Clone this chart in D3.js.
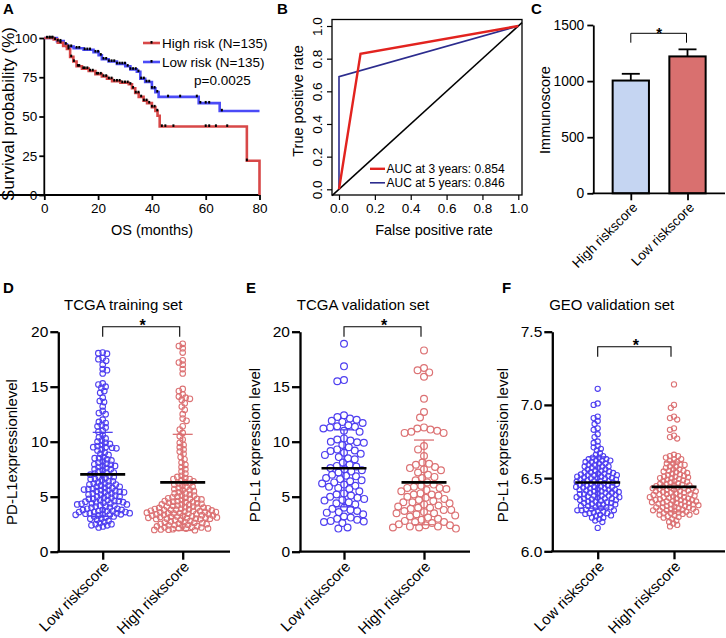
<!DOCTYPE html>
<html><head><meta charset="utf-8">
<script src="https://cdn.jsdelivr.net/npm/d3@7"></script>
<style>html,body{margin:0;padding:0;background:#fff}svg{display:block}</style>
</head><body><svg id="c" width="726" height="638"></svg>
<script>
// ---------------- DATA ----------------
// Panel A: Kaplan-Meier steps [time (months), survival %]
const kmHigh = [[0,100],[3.5,99],[5,97],[7,95],[8.4,93],[9.6,88],[10.8,85],[12,82],[14,80.5],[16.5,79],[19,77],[21.4,75.5],[23.3,74],[25.2,72.5],[28.3,71.5],[31.4,70.5],[32.6,68],[33.8,65],[35.1,62.5],[36.9,60],[38.2,58.5],[40,56],[41.3,53.5],[42.1,50.5],[42.9,43.6],[75.3,21.8],[80,0]];
const kmLow = [[0,100],[4.7,98],[7.2,96],[8.4,94.5],[10.9,93.5],[14.6,92.5],[18.3,91],[20.2,89],[21.4,86.5],[23.9,85],[27,83.5],[30.1,82],[32,80],[34.4,78.5],[35.7,74],[37.5,72],[40,68],[41.3,65.5],[42.5,62.5],[57.4,58.5],[65.2,53.5]];
const kmEnd = 80;
const censorHigh = [2,3,4,6,9,10,11,12.5,13,14.5,15,16,17,18,19.5,20,21,22,23,24,25,26,27,28,29,30,31,32,33,34,35,36,37,38,39,40,41,42,43.7,45,48,60,61.3,63.8,68,75.3];
const censorLow = [1,2,3,5,6,8,9,10,12,13,15,16,17,19,20,21,22,23,24,25,26,27,28,29,30,31,32,33,34,35,36,37,38,39,40,41,42,46,50.5,56.7,58,60,61.3,66];
const kmLegend = ["High risk (N=135)","Low risk (N=135)"];
const kmP = "p=0.0025";
const kmXTicks = [0,20,40,60,80];
const kmYTicks = [0,25,50,75,100];

// Panel B: ROC curves [FPR, TPR]
const roc3 = [[0,0],[0.12,0.83],[1,1]];
const roc5 = [[0,0],[0,0.69],[1,1]];
const rocLegend = ["AUC at 3 years: 0.854","AUC at 5 years: 0.846"];
const rocTicks = [0,0.2,0.4,0.6,0.8,1.0];

// Panel C: Immunoscore bars
const cCats = ["High riskscore","Low riskscore"];
const cMeans = [1005,1220];
const cErr = [1065,1283];
const cTicks = [0,500,1000,1500];

// Panels D-F: PD-L1 expression
const groupCats = ["Low riskscore","High riskscore"];
const dLow = [18.1,18.05,18.0,17.6,17.5,17.35,17.0,16.6,16.5,16.2,15.3,15.2,15.0,14.9,14.6,14.45,14.0,13.7,13.6,13.2,12.8,12.6,12.5,12.0,11.8,11.7,11.5,11.4,11.3,11.0,10.9,10.6,10.4,10.3,10.1,10.0,9.9,9.8,
9.7,9.6,9.5,9.5,9.45,9.4,9.3,9.2,9.0,8.9,8.8,8.6,8.5,8.5,8.4,8.3,8.2,8.1,8.0,7.95,
7.9,7.8,7.8,7.7,7.6,7.5,7.5,7.4,7.3,7.2,7.2,7.1,7.0,7.0,6.9,6.8,6.8,6.7,6.6,6.6,6.5,6.4,6.4,6.3,6.2,6.2,6.1,6.1,6.0,6.0,
5.9,5.9,5.8,5.8,5.7,5.7,5.6,5.6,5.5,5.5,5.4,5.4,5.3,5.3,5.2,5.2,5.1,5.1,5.0,5.0,4.9,4.9,4.8,4.8,4.7,4.7,4.6,4.6,4.5,4.5,4.4,4.4,4.3,4.3,4.2,4.2,4.1,4.1,4.0,4.0,4.45,4.55,4.35,5.45,5.65,
3.9,3.9,3.8,3.8,3.8,3.7,3.7,3.7,3.6,3.6,3.6,3.5,3.5,3.5,3.4,3.4,3.4,3.45,3.35,3.3,3.2,3.2,3.1,3.0,3.0,
2.9,2.8,2.7,2.6,2.5,2.5,2.4,2.4,2.3,2.2];
const dHigh = [18.9,18.7,18.5,18.1,17.4,17.2,17.0,16.6,16.2,14.8,14.6,14.3,14.1,14.0,13.9,13.8,13.5,13.2,12.9,12.5,12.1,11.9,11.4,11.1,
10.8,10.5,10.2,9.9,9.7,9.5,9.3,9.1,8.9,8.6,8.4,8.1,7.9,7.7,7.5,7.3,7.1,6.9,6.8,6.7,6.6,6.6,6.5,
6.4,6.3,6.2,6.1,6.0,5.9,5.8,5.7,5.6,5.5,5.4,5.3,5.2,5.1,5.0,6.2,5.9,5.6,5.3,5.1,
4.95,4.9,4.85,4.8,4.75,4.7,4.6,4.55,4.5,4.45,4.4,4.35,4.3,4.3,4.25,4.2,4.15,4.1,4.1,4.05,4.0,4.0,4.5,4.6,4.8,
3.98,3.95,3.9,3.88,3.85,3.8,3.78,3.75,3.7,3.68,3.65,3.6,3.58,3.55,3.5,3.48,3.45,3.4,3.38,3.35,3.3,3.28,3.25,3.2,3.18,3.15,3.1,3.08,3.05,3.0,3.0,3.02,3.12,3.22,3.32,3.42,3.52,3.62,3.72,3.82,
2.98,2.95,2.9,2.85,2.8,2.75,2.7,2.65,2.6,2.55,2.5,2.45,2.4,2.35,2.3,2.25,2.2,2.15,2.1,2.05,2.0,1.98,1.95,2.02,2.12,2.22,2.32,2.42,2.52,2.62];
const eLow = [18.9,16.85,15.6,15.5,12.4,12.25,12.1,12.0,11.9,11.8,11.7,11.5,11.4,11.35,11.3,11.2,11.0,10.9,10.3,10.2,10.1,10.0,9.95,9.9,9.7,9.5,9.3,9.2,9.15,9.0,8.9,8.8,8.6,8.5,8.4,8.1,7.9,7.8,7.75,7.6,7.5,7.4,7.3,7.2,7.0,6.9,6.85,6.7,6.6,6.5,6.4,6.3,6.2,6.1,6.0,5.9,5.8,5.7,5.5,5.3,5.2,5.1,5.0,4.9,4.8,4.7,4.65,4.5,4.4,4.3,4.0,3.9,3.8,3.7,3.6,3.55,3.4,3.2,3.1,3.0,2.9,2.8,2.75,2.7,2.6,2.2,2.1];
const eHigh = [18.3,16.7,16.5,16.3,15.9,13.9,12.7,12.2,11.3,11.2,11.1,11.0,10.9,10.8,10.8,9.6,9.3,8.7,8.1,8.0,7.9,7.7,7.6,7.5,7.4,7.2,7.0,6.8,6.7,6.5,6.3,6.1,6.0,5.9,5.8,5.8,5.7,5.6,5.5,5.3,5.2,5.2,5.1,5.0,4.9,4.8,4.7,4.6,4.5,4.5,4.4,4.3,4.2,4.1,4.0,4.0,3.9,3.8,3.8,3.7,3.6,3.5,3.5,3.4,3.3,3.2,3.1,3.0,2.9,2.8,2.7,2.7,2.6,2.5,2.4,2.4,2.3,2.3,2.2,2.2,2.1];
const fLow = [7.11,7.01,7.00,6.92,6.91,6.89,6.87,6.84,6.83,6.80,6.78,6.75,6.74,6.72,6.71,6.70,6.69,6.67,6.66,6.65,
6.64,6.64,6.63,6.63,6.62,6.62,6.61,6.61,6.60,6.60,6.59,6.59,6.58,6.58,6.57,6.57,6.56,6.56,6.55,6.55,6.62,6.58,
6.545,6.54,6.54,6.535,6.53,6.53,6.525,6.52,6.52,6.515,6.51,6.51,6.505,6.50,6.50,6.495,6.49,6.49,6.485,6.48,6.48,6.475,6.47,6.47,6.465,6.46,6.46,6.455,6.45,6.45,6.52,6.48,6.46,6.50,
6.445,6.44,6.44,6.435,6.43,6.43,6.425,6.42,6.42,6.415,6.41,6.41,6.405,6.40,6.40,6.395,6.39,6.39,6.385,6.38,6.38,6.375,6.37,6.37,6.365,6.36,6.36,6.355,6.35,6.35,6.44,6.42,6.40,6.38,6.36,
6.345,6.34,6.34,6.335,6.33,6.33,6.325,6.32,6.32,6.31,6.31,6.30,6.30,6.295,6.29,6.285,6.28,6.28,6.275,6.27,6.265,6.26,6.26,6.255,6.25,6.32,6.30,6.28,
6.245,6.24,6.23,6.23,6.22,6.21,6.20,6.16];
const fHigh = [7.14,7.00,6.98,6.92,6.91,6.90,6.84,6.83,6.79,6.78,6.77,6.66,6.65,6.65,6.64,
6.63,6.63,6.62,6.61,6.60,6.60,6.59,6.58,6.58,6.57,6.56,6.56,6.55,6.55,6.59,
6.545,6.54,6.535,6.53,6.525,6.52,6.515,6.51,6.505,6.50,6.50,6.495,6.49,6.485,6.48,6.48,6.475,6.47,6.465,6.46,6.46,6.455,6.45,6.45,6.51,
6.445,6.44,6.44,6.435,6.43,6.43,6.425,6.42,6.42,6.415,6.41,6.41,6.405,6.40,6.40,6.395,6.39,6.39,6.385,6.38,6.38,6.375,6.37,6.37,6.365,6.36,6.36,6.355,6.35,6.35,6.43,6.41,6.39,6.37,6.35,
6.345,6.34,6.34,6.335,6.33,6.33,6.33,6.325,6.32,6.32,6.315,6.31,6.31,6.305,6.30,6.30,6.295,6.29,6.29,6.285,6.28,6.28,6.275,6.27,6.27,6.265,6.26,6.26,6.255,6.25,6.25,6.34,6.32,6.30,6.28,
6.245,6.24,6.235,6.23,6.22,6.21,6.20,6.19,6.18,6.17];
// mean and SD
const dMean = [7.03,6.3], dSD = [3.82,4.37];
const eMean = [7.58,6.3], eSD = [3.5,3.85];
const fMean = [6.47,6.44], fSD = [0.175,0.17];
const dTicks = [0,5,10,15,20], fTicks = [6.0,6.5,7.0,7.5];
const titles = ["TCGA training set","TCGA validation set","GEO validation set"];
const yLabels = ["PD-L1expressionlevel","PD-L1 expression level","PD-L1 expression level"];

// ---------------- DRAW ----------------
const FONT = "'Liberation Sans', Arial, Helvetica, sans-serif";
const svg = d3.select("#c").style("font-family", FONT);
const BLUE_PT = "#4f3ff0", RED_PT = "#dc7274";

function styleAxis(g, w, fs) {
  g.selectAll("path.domain").attr("stroke","#000").attr("stroke-width",w);
  g.selectAll(".tick line").attr("stroke","#000").attr("stroke-width",w);
  g.selectAll(".tick text").attr("fill","#000").style("font-size",fs+"px").style("font-family",FONT);
}
function letter(t,x,y){ svg.append("text").attr("x",x).attr("y",y).text(t).style("font-weight","bold").style("font-size","15px"); }

// ===== Panel A =====
letter("A",3,14);
{
  const x = d3.scaleLinear().domain([0,80]).range([44.3,259.5]);
  const y = d3.scaleLinear().domain([0,100]).range([195,38]);
  const gA = svg.append("g");
  const ax = gA.append("g").attr("transform",`translate(0,195)`).call(d3.axisBottom(x).tickValues(kmXTicks).tickSize(5).tickSizeOuter(0).tickPadding(3));
  styleAxis(ax,1.8,13.5);
  const ay = gA.append("g").attr("transform",`translate(44.3,0)`).call(d3.axisLeft(y).tickValues(kmYTicks).tickSize(5).tickSizeOuter(0).tickPadding(2));
  styleAxis(ay,1.8,13.5);
  ay.select("path.domain").attr("d",`M0,${y(100)}V${y(0)+0.9}`);
  ax.select("path.domain").attr("d",`M-0.9,0H${x(80)}`);
  function stepPath(steps, end) {
    let d = `M${x(steps[0][0])},${y(steps[0][1])}`;
    for (let i=1;i<steps.length;i++){ d += `H${x(steps[i][0])}V${y(steps[i][1])}`; }
    if (end > steps[steps.length-1][0]) d += `H${x(end)}`;
    return d;
  }
  function survAt(steps,t){ let s=steps[0][1]; for(const p of steps){ if(p[0]<=t) s=p[1]; } return s; }
  gA.append("path").attr("d",stepPath(kmLow,kmEnd)).attr("fill","none").attr("stroke","#4b4bf7").attr("stroke-width",2.6);
  gA.append("path").attr("d",stepPath(kmHigh,kmEnd)).attr("fill","none").attr("stroke","#d84848").attr("stroke-width",2.6);
  [[censorLow,kmLow],[censorHigh,kmHigh]].forEach(([cs,st])=>{
    gA.selectAll(null).data(cs).enter().append("rect")
      .attr("x",d=>x(d)-1).attr("y",d=>y(survAt(st,d))-2.2).attr("width",2).attr("height",2.6).attr("fill","#000");
  });
  const lc = ["#d84848","#4b4bf7"];
  kmLegend.forEach((t,i)=>{
    const ly = 43 + i*19;
    gA.append("line").attr("x1",143).attr("x2",160).attr("y1",ly).attr("y2",ly).attr("stroke",lc[i]).attr("stroke-width",2.6);
    gA.append("rect").attr("x",150.5).attr("y",ly-2).attr("width",2).attr("height",2.6).attr("fill","#000");
    gA.append("text").attr("x",162).attr("y",ly+5).text(t).style("font-size","13.5px");
  });
  gA.append("text").attr("x",194).attr("y",85).text(kmP).style("font-size","13.5px");
  gA.append("text").attr("x",152).attr("y",235).attr("text-anchor","middle").text("OS (months)").style("font-size","14.5px");
  gA.append("text").attr("transform","translate(13.5,114) rotate(-90)").attr("text-anchor","middle").text("Survival probability (%)").style("font-size","17px");
}

// ===== Panel B =====
letter("B",277,14);
{
  const x = d3.scaleLinear().domain([0,1]).range([339,518.3]);
  const y = d3.scaleLinear().domain([0,1]).range([189.3,26]);
  const g = svg.append("g");
  const L=332,R=522,T=19.5,B=195;
  g.append("line").attr("x1",L).attr("y1",y(x.invert(L)))
    .attr("x2",R).attr("y2",y(x.invert(R))).attr("stroke","#000").attr("stroke-width",1.5);
  g.append("path").attr("d",d3.line().x(d=>x(d[0])).y(d=>y(d[1]))(roc5)).attr("fill","none").attr("stroke","#2c2c8e").attr("stroke-width",1.6);
  g.append("path").attr("d",d3.line().x(d=>x(d[0])).y(d=>y(d[1]))(roc3)).attr("fill","none").attr("stroke","#e2231f").attr("stroke-width",2.4);
  g.append("rect").attr("x",L).attr("y",T).attr("width",R-L).attr("height",B-T).attr("fill","none").attr("stroke","#000").attr("stroke-width",1.3);
  const fmt = d3.format(".1f");
  const ax = g.append("g").attr("transform",`translate(0,${B})`).call(d3.axisBottom(x).tickValues(rocTicks).tickFormat(fmt).tickSize(5).tickPadding(3));
  styleAxis(ax,1.2,13.5); ax.select("path.domain").remove();
  const ay = g.append("g").attr("transform",`translate(${L},0)`).call(d3.axisLeft(y).tickValues(rocTicks).tickFormat(fmt).tickSize(5));
  styleAxis(ay,1.2,13.5); ay.select("path.domain").remove();
  ay.selectAll(".tick text").attr("transform","rotate(-90)").attr("x",0).attr("y",-10).attr("dy",0).attr("text-anchor","middle");
  const lc = ["#e2231f","#2c2c8e"];
  rocLegend.forEach((t,i)=>{
    const ly = 168.8 + i*14;
    g.append("line").attr("x1",370).attr("x2",385).attr("y1",ly).attr("y2",ly).attr("stroke",lc[i]).attr("stroke-width",i?1.6:2.4);
    g.append("text").attr("x",386.5).attr("y",ly+4.2).text(t).style("font-size","12px");
  });
  g.append("text").attr("x",434).attr("y",235).attr("text-anchor","middle").text("False positive rate").style("font-size","14.5px");
  g.append("text").attr("transform","translate(303,101) rotate(-90)").attr("text-anchor","middle").text("True positive rate").style("font-size","14.5px");
}

// ===== Panel C =====
letter("C",531,14);
{
  const y = d3.scaleLinear().domain([0,1500]).range([193.3,25]);
  const x = d3.scalePoint().domain(cCats).range([630.8,687.5]);
  const bw = 36.3;
  const g = svg.append("g");
  const fills = ["#c5d5f2","#d9706f"];
  cCats.forEach((c,i)=>{
    g.append("line").attr("x1",x(c)).attr("x2",x(c)).attr("y1",y(cMeans[i])).attr("y2",y(cErr[i])).attr("stroke","#000").attr("stroke-width",1.8);
    g.append("line").attr("x1",x(c)-9).attr("x2",x(c)+9).attr("y1",y(cErr[i])).attr("y2",y(cErr[i])).attr("stroke","#000").attr("stroke-width",1.8);
  });
  g.selectAll(null).data(cCats).enter().append("rect")
    .attr("x",d=>x(d)-bw/2).attr("width",bw).attr("y",(d,i)=>y(cMeans[i])).attr("height",(d,i)=>y(0)-y(cMeans[i]))
    .attr("fill",(d,i)=>fills[i]).attr("stroke","#000").attr("stroke-width",2);
  const ay = g.append("g").attr("transform","translate(593.3,0)").call(d3.axisLeft(y).tickValues(cTicks).tickFormat(d3.format("d")).tickSize(6).tickSizeOuter(0).tickPadding(3));
  styleAxis(ay,1.8,13.8);
  const ax = g.append("g").attr("transform","translate(0,193.3)").call(d3.axisBottom(x).tickSize(7).tickSizeOuter(0));
  styleAxis(ax,1.8,13.5);
  ax.select("path.domain").attr("d","M592.4,0H725");
  ax.selectAll(".tick text").attr("text-anchor","end").attr("dy",0).attr("y",0).attr("x",0).attr("transform","translate(7,15) rotate(-45)");
  g.append("path").attr("d",`M${x(cCats[0])},42.7V33.3H${x(cCats[1])-1}V42.7`).attr("fill","none").attr("stroke","#000").attr("stroke-width",1);
  g.append("text").attr("x",(x(cCats[0])+x(cCats[1]))/2).attr("y",38).attr("text-anchor","middle").text("*").style("font-size","15px").style("font-weight","bold");
  g.append("text").attr("transform","translate(550,110) rotate(-90)").attr("text-anchor","middle").text("Immunoscore").style("font-size","14.5px");
}

// ===== Panels D-F =====
function swarm(vals, y, dmin) {
  const placed = [];
  const sorted = vals.slice().sort((a,b)=>b-a);
  sorted.forEach(v=>{
    const py = y(v);
    const blocks = [];
    for (const p of placed) {
      const dy = Math.abs(p.y-py);
      if (dy < dmin) { const w = Math.sqrt(dmin*dmin-dy*dy); blocks.push([p.x-w,p.x+w]); }
    }
    let cands = [0];
    blocks.forEach(b=>{cands.push(b[0]-0.01,b[1]+0.01);});
    cands.sort((a,b)=>Math.abs(a)-Math.abs(b) || a-b);
    let best = 0;
    for (const c of cands) { if (!blocks.some(b=>c>b[0] && c<b[1])) { best=c; break; } }
    placed.push({x:best,y:py,v});
  });
  return placed;
}
function dotPanel(o) {
  const g = svg.append("g");
  letter(o.letter, o.lx, 293);
  const y = d3.scaleLinear().domain(o.domain).range([o.y0, 331.7]);
  const x = d3.scalePoint().domain(groupCats).range(o.centers);
  const cols = [BLUE_PT, RED_PT];
  [o.low, o.high].forEach((vals,i)=>{
    const pts = swarm(vals, y, o.dmin);
    g.selectAll(null).data(pts).enter().append("circle")
      .attr("cx",d=>x(groupCats[i])+d.x).attr("cy",d=>d.y).attr("r",o.r)
      .attr("fill","none").attr("stroke",cols[i]).attr("stroke-width",o.sw);
  });
  groupCats.forEach((c,i)=>{
    const cx = x(c), m = o.mean[i], s = o.sd[i];
    g.append("line").attr("x1",cx).attr("x2",cx).attr("y1",y(m-s)).attr("y2",y(m+s)).attr("stroke",cols[i]).attr("stroke-width",1.3);
    [m-s,m+s].forEach(v=>g.append("line").attr("x1",cx-10).attr("x2",cx+10).attr("y1",y(v)).attr("y2",y(v)).attr("stroke",cols[i]).attr("stroke-width",1.3));
    g.append("line").attr("x1",cx-22.5).attr("x2",cx+22.5).attr("y1",y(m)).attr("y2",y(m)).attr("stroke","#000").attr("stroke-width",2.6);
  });
  const ay = g.append("g").attr("transform",`translate(${o.ax},0)`).call(d3.axisLeft(y).tickValues(o.ticks).tickFormat(o.fmt).tickSize(8).tickSizeOuter(0).tickPadding(2));
  styleAxis(ay,2.3,15.5);
  const ax = g.append("g").attr("transform",`translate(0,${o.y0})`).call(d3.axisBottom(x).tickSize(8).tickSizeOuter(0));
  styleAxis(ax,2.3,15);
  ax.select("path.domain").attr("d",`M${o.ax-1.1},0H${o.xEnd}`);
  ax.selectAll(".tick text").attr("text-anchor","end").attr("dy",0).attr("y",0).attr("x",0).attr("transform","translate(7,16) rotate(-45)");
  const c0 = x(groupCats[0]), c1 = x(groupCats[1]);
  g.append("path").attr("d",`M${c0},${o.by+10}V${o.by}H${c1-3}V${o.by+10}`).attr("fill","none").attr("stroke","#000").attr("stroke-width",1.1);
  g.append("text").attr("x",(c0+c1)/2).attr("y",o.by+4).attr("text-anchor","middle").text("*").style("font-size","16px").style("font-weight","bold");
  g.append("text").attr("x",o.tx).attr("y",310).attr("text-anchor","middle").text(o.title).style("font-size","15px");
  g.append("text").attr("transform",`translate(${o.ylx},${o.yly}) rotate(-90)`).attr("text-anchor","middle").text(o.ylab).style("font-size","15px");
}
dotPanel({letter:"D",lx:3,domain:[0,20],y0:551.7,centers:[102.7,182.7],low:dLow,high:dHigh,mean:dMean,sd:dSD,
  r:2.8,sw:1.1,dmin:4.4,ax:58.3,xEnd:230,ticks:dTicks,fmt:d3.format("d"),by:326.7,tx:123.3,title:titles[0],ylab:yLabels[0],ylx:17,yly:452});
dotPanel({letter:"E",lx:246,domain:[0,20],y0:551.7,centers:[344,424],low:eLow,high:eHigh,mean:eMean,sd:eSD,
  r:3.4,sw:1.2,dmin:6.8,ax:300,xEnd:470,ticks:dTicks,fmt:d3.format("d"),by:326.7,tx:363,title:titles[1],ylab:yLabels[1],ylx:260,yly:445});
dotPanel({letter:"F",lx:502,domain:[6,7.5],y0:551.3,centers:[597.7,674],low:fLow,high:fHigh,mean:fMean,sd:fSD,
  r:2.6,sw:1.1,dmin:4.3,ax:552.3,xEnd:725,ticks:fTicks,fmt:d3.format(".1f"),by:346.7,tx:611.7,title:titles[2],ylab:yLabels[2],ylx:508,yly:445});
</script></body></html>
